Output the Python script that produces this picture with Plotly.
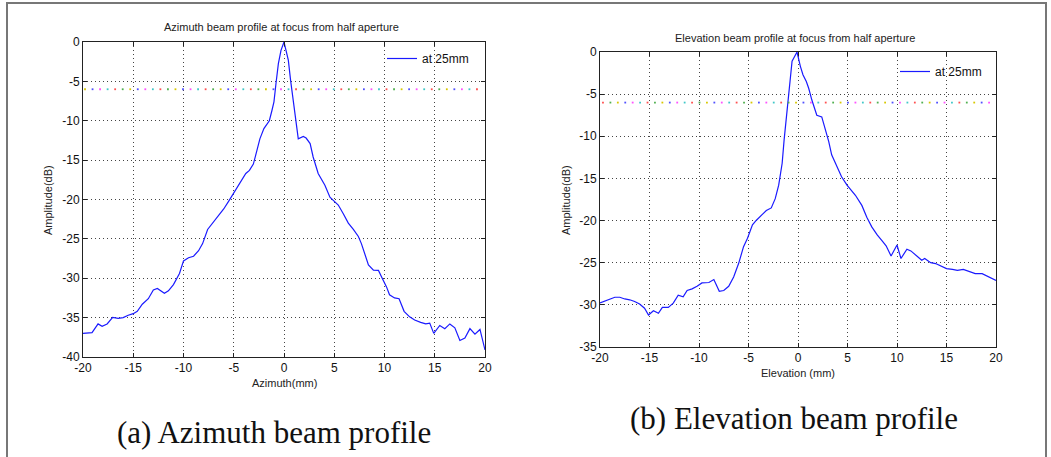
import numpy as np
import plotly.graph_objects as go

W, H = 1051, 457

# ---------------- data ----------------
az_x = [-20, -19.1, -18.5, -18.1, -17.6, -17.05, -16.5, -16.0, -15.5, -15.0, -14.6, -14.1, -13.5, -13.0,
        -12.6, -11.9, -11.5, -11.0, -10.4, -10.0, -9.5, -9.0, -8.5, -8.1, -7.6, -7.0, -6.5, -6.0, -5.5,
        -5.0, -4.37, -3.8, -3.44, -3.05, -2.7, -2.4, -2.0, -1.46, -1.2, -1.0, -0.8, -0.56, -0.3, -0.07,
        0.0, 0.2, 0.43, 0.66, 0.93, 1.2, 1.42, 1.92, 2.2, 2.6, 2.9, 3.4, 3.74, 4.07, 4.57, 4.9, 5.4,
        5.9, 6.4, 6.9, 7.4, 7.7, 8.05, 8.4, 8.9, 9.4, 9.7, 10.2, 10.5, 11.0, 11.45, 11.95, 12.5, 13.0,
        13.6, 14.1, 14.5, 14.9, 15.5, 16.0, 16.5, 17.0, 17.5, 18.0, 18.5, 19.0, 19.5, 20.0]
az_db = [-37.0, -36.9, -35.8, -36.1, -35.8, -34.96, -35.1, -35.0, -34.7, -34.5, -34.2, -33.3, -32.6,
         -31.5, -31.3, -31.9, -31.6, -30.8, -29.4, -27.8, -27.4, -27.2, -26.5, -25.6, -23.8, -22.8,
         -22.1, -21.2, -20.2, -19.2, -17.8, -16.7, -16.3, -15.5, -13.8, -12.3, -11.0, -10.0, -8.7, -7.6,
         -5.3, -2.75, -1.06, -0.2, 0.0, -1.06, -2.3, -4.9, -7.4, -10.0, -12.3, -12.0, -12.2, -12.9,
         -14.6, -16.7, -17.4, -18.2, -19.7, -20.1, -20.7, -21.8, -23.0, -23.8, -24.7, -25.6, -27.05,
         -28.3, -28.96, -29.0, -29.8, -31.1, -32.1, -32.5, -32.6, -34.2, -34.9, -35.3, -35.6, -35.8,
         -35.7, -37.0, -36.0, -36.4, -35.8, -36.3, -37.9, -37.6, -36.4, -37.1, -36.5, -39.1]

el_x = [-20, -19.3, -18.5, -18.0, -17.5, -17.0, -16.5, -16.0, -15.5, -15.1, -14.6, -14.1, -13.7, -13.1,
        -12.6, -12.1, -11.6, -11.2, -10.7, -10.2, -9.7, -9.0, -8.5, -7.95, -7.5, -7.0, -6.5, -6.0, -5.5,
        -5.1, -4.6, -4.2, -3.7, -3.2, -2.7, -2.3, -1.95, -1.6, -1.4, -1.1, -0.84, -0.6, -0.37, -0.1,
        0.24, 0.5, 0.84, 1.08, 1.4, 1.9, 2.4, 2.76, 3.1, 3.4, 3.9, 4.4, 4.95, 5.4, 5.8, 6.45, 6.95,
        7.45, 8.0, 8.5, 8.9, 9.4, 9.66, 10.0, 10.4, 11.0, 11.4, 12.0, 12.5, 12.8, 13.4, 13.9, 14.4,
        15.0, 15.6, 16.1, 16.7, 17.4, 17.9, 18.6, 19.3, 20.0]
el_db = [-29.76, -29.45, -29.1, -29.1, -29.3, -29.4, -29.6, -29.9, -30.4, -31.2, -30.7, -31.0, -30.3,
         -30.3, -29.8, -28.85, -29.05, -28.3, -28.1, -27.8, -27.4, -27.35, -27.0, -28.4, -28.3, -27.8,
         -26.7, -25.1, -23.1, -22.1, -20.5, -19.96, -19.4, -18.8, -18.5, -17.4, -15.8, -13.2, -10.4,
         -6.9, -4.1, -1.1, -0.6, 0.0, -1.7, -2.7, -3.5, -4.3, -5.7, -7.5, -7.7, -9.05, -10.6, -12.2,
         -13.6, -14.8, -15.8, -16.4, -17.0, -18.2, -19.6, -20.75, -21.7, -22.4, -23.0, -24.2, -23.7,
         -22.9, -24.5, -23.4, -23.6, -24.2, -24.7, -24.5, -25.0, -25.1, -25.4, -25.7, -25.8, -25.9,
         -25.8, -26.1, -26.3, -26.3, -26.7, -27.1]

threshold_db = -6
az_thr_range = [-21.3, 19.5]
el_thr_range = [-19.7, 19.5]

x_ticks = [-20, -15, -10, -5, 0, 5, 10, 15, 20]
az_y_ticks = [0, -5, -10, -15, -20, -25, -30, -35, -40]
el_y_ticks = [0, -5, -10, -15, -20, -25, -30, -35]
dot_colors = ["#ff5050", "#50b050", "#d8c800", "#5050ff", "#ff50ff", "#40c8c8"]


def lbl(v):
    return str(v).replace("\u2212", "-")


def px(x):
    return x / W


def py(y):
    return 1 - y / H


fig = go.Figure()

line_style = dict(color="#1a1aff", width=1.2)
fig.add_trace(go.Scatter(x=az_x, y=az_db, mode="lines", line=line_style, name="at 25mm",
                         xaxis="x", yaxis="y", legend="legend"))
fig.add_trace(go.Scatter(x=el_x, y=el_db, mode="lines", line=line_style, name="at 25mm",
                         xaxis="x2", yaxis="y2", legend="legend2"))

# -6 dB multicoloured dotted reference lines
for rng, xa, ya, step in [(az_thr_range, "x", "y", 0.75), (el_thr_range, "x2", "y2", 0.75)]:
    xs = np.arange(rng[0], rng[1] + 1e-9, step)
    cols = [dot_colors[i % len(dot_colors)] for i in range(len(xs))]
    fig.add_trace(go.Scatter(x=xs, y=[threshold_db] * len(xs), mode="markers",
                             marker=dict(size=1.8, color=cols, symbol="square", line=dict(width=0)),
                             showlegend=False, cliponaxis=False, xaxis=xa, yaxis=ya, hoverinfo="skip"))

font_tick = dict(family="Liberation Sans, Arial, sans-serif", size=12, color="#111")
axis_common = dict(showline=True, linecolor="#222", linewidth=1, mirror="ticks", ticks="inside",
                   ticklen=4, tickcolor="#222", showgrid=True, gridcolor="#444", gridwidth=1,
                   griddash="1px,3px", zeroline=False, tickfont=font_tick, automargin=False)

fig.update_layout(
    width=W, height=H, margin=dict(l=0, r=0, t=0, b=0, autoexpand=False),
    paper_bgcolor="white", plot_bgcolor="white",
    xaxis=dict(domain=[px(83), px(485)], range=[-20, 20], anchor="y", tickvals=x_ticks,
               ticktext=[lbl(v) for v in x_ticks], **axis_common),
    yaxis=dict(domain=[py(357), py(42)], range=[-40, 0], anchor="x", tickvals=az_y_ticks,
               ticktext=[lbl(v) for v in az_y_ticks], **axis_common),
    xaxis2=dict(domain=[px(600), px(996)], range=[-20, 20], anchor="y2", tickvals=x_ticks,
                ticktext=[lbl(v) for v in x_ticks], **axis_common),
    yaxis2=dict(domain=[py(347), py(52)], range=[-35, 0], anchor="x2", tickvals=el_y_ticks,
                ticktext=[lbl(v) for v in el_y_ticks], **axis_common),
    legend=dict(x=px(382), y=py(44), xanchor="left", yanchor="top", bgcolor="rgba(0,0,0,0)",
                font=dict(family="Liberation Sans, Arial, sans-serif", size=12, color="#111")),
    legend2=dict(x=px(895), y=py(57), xanchor="left", yanchor="top", bgcolor="rgba(0,0,0,0)",
                 font=dict(family="Liberation Sans, Arial, sans-serif", size=12, color="#111")),
    showlegend=True,
)

small = dict(family="Liberation Sans, Arial, sans-serif", size=11, color="#222")
serif = dict(family="Liberation Serif, DejaVu Serif, serif", size=31, color="#111")
ann = [
    dict(text="Azimuth beam profile at focus from half aperture", x=px(281), y=py(27), font=small),
    dict(text="Elevation beam profile at focus from half aperture", x=px(795), y=py(38), font=small),
    dict(text="Azimuth(mm)", x=px(284), y=py(383), font=small),
    dict(text="Elevation (mm)", x=px(798), y=py(373), font=small),
    dict(text="Amplitude(dB)", x=px(48), y=py(200), font=small, textangle=-90),
    dict(text="Amplitude(dB)", x=px(566), y=py(200), font=small, textangle=-90),
    dict(text="(a) Azimuth beam profile", x=px(274), y=py(432), font=serif),
    dict(text="(b) Elevation beam profile", x=px(794), y=py(418), font=serif),
]
for a in ann:
    fig.add_annotation(xref="paper", yref="paper", showarrow=False, xanchor="center", yanchor="middle", **a)

# outer frame
fig.add_shape(type="rect", xref="paper", yref="paper", x0=px(7), x1=px(1046), y0=py(470), y1=py(3),
              line=dict(color="#777", width=2), fillcolor="rgba(0,0,0,0)", layer="below")

fig.write_html("out.html")
